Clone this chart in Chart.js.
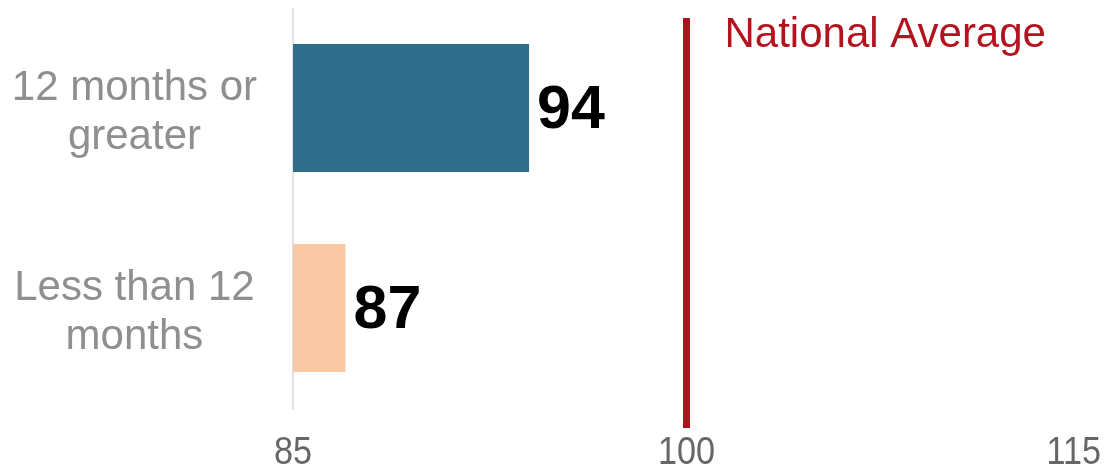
<!DOCTYPE html>
<html>
<head>
<meta charset="utf-8">
<style>
  html, body { margin: 0; padding: 0; background: #ffffff; }
  #wrap { width: 1105px; height: 476px; position: relative; }
</style>
<script src="https://cdn.jsdelivr.net/npm/chart.js@4.4.0/dist/chart.umd.min.js"></script>
</head>
<body>
<div id="wrap"><canvas id="c" width="1105" height="476"></canvas></div>
<script>
const categories = [["12 months or", "greater"], ["Less than 12", "months"]];
const values = [94, 87];
const barColors = ["#2f6e8a", "#f8c9a4"];
const tickValues = [85, 100, 115];
const nationalAverage = 100;
const nationalAverageLabel = "National Average";

const refLinePlugin = {
  id: 'refLine',
  afterDatasetsDraw(chart) {
    const ctx = chart.ctx;
    const xs = chart.scales.x;
    const area = chart.chartArea;
    const x = xs.getPixelForValue(nationalAverage);
    ctx.save();
    ctx.strokeStyle = '#b3101c';
    ctx.lineWidth = 7;
    ctx.beginPath();
    ctx.moveTo(x, area.top + 10);
    ctx.lineTo(x, area.bottom + 20);
    ctx.stroke();
    ctx.fillStyle = '#b3121e';
    ctx.font = '42px "Liberation Sans", Arial, sans-serif';
    ctx.textAlign = 'left';
    ctx.textBaseline = 'middle';
    ctx.fillText(nationalAverageLabel, x + 38, area.top + 27);
    ctx.restore();
  }
};

const valueLabelPlugin = {
  id: 'valueLabels',
  afterDatasetsDraw(chart) {
    const ctx = chart.ctx;
    const meta = chart.getDatasetMeta(0);
    ctx.save();
    ctx.fillStyle = '#000000';
    ctx.font = 'bold 61px "Liberation Sans", Arial, sans-serif';
    ctx.textAlign = 'left';
    ctx.textBaseline = 'middle';
    meta.data.forEach((bar, i) => {
      ctx.fillText(String(values[i]), bar.x + 8, bar.y + 3);
    });
    ctx.restore();
  }
};

const axisLinePlugin = {
  id: 'axisLine',
  beforeDatasetsDraw(chart) {
    const ctx = chart.ctx;
    const area = chart.chartArea;
    const x = chart.scales.x.getPixelForValue(tickValues[0]);
    ctx.save();
    ctx.strokeStyle = '#e2e2e2';
    ctx.lineWidth = 2;
    ctx.beginPath();
    ctx.moveTo(x, area.top);
    ctx.lineTo(x, area.bottom + 2);
    ctx.stroke();
    ctx.restore();
  }
};

// Draws the x-axis tick labels (from the scale's own ticks) slightly condensed,
// keeping the last one inside the canvas.
const xTickLabelPlugin = {
  id: 'xTickLabels',
  afterDraw(chart) {
    const ctx = chart.ctx;
    const xs = chart.scales.x;
    const sx = 0.9;
    ctx.save();
    ctx.fillStyle = '#666666';
    ctx.font = '38px "Liberation Sans", Arial, sans-serif';
    ctx.textBaseline = 'middle';
    ctx.textAlign = 'center';
    xs.ticks.forEach((t, i) => {
      const label = String(t.value);
      const w = ctx.measureText(label).width * sx;
      let cx = xs.getPixelForTick(i);
      const maxRight = chart.width - 4;
      if (cx + w / 2 > maxRight) cx = maxRight - w / 2;
      ctx.save();
      ctx.translate(cx, xs.top + 46);
      ctx.scale(sx, 1);
      ctx.fillText(label, 0, 0);
      ctx.restore();
    });
    ctx.restore();
  }
};

new Chart(document.getElementById('c'), {
  type: 'bar',
  data: {
    labels: categories,
    datasets: [{
      data: values,
      backgroundColor: barColors,
      borderWidth: 0,
      barPercentage: 0.8,
      categoryPercentage: 0.8,
      base: tickValues[0]
    }]
  },
  options: {
    indexAxis: 'y',
    responsive: false,
    animation: false,
    layout: { padding: { top: 8, right: 25, left: 0, bottom: 0 } },
    plugins: { legend: { display: false }, tooltip: { enabled: false } },
    scales: {
      x: {
        min: tickValues[0],
        max: tickValues[tickValues.length - 1],
        afterBuildTicks(scale) { scale.ticks = tickValues.map(v => ({ value: v })); },
        afterFit(scale) { scale.height = 68; scale.paddingLeft = 0; scale.paddingRight = 0; },
        grid: { display: false, drawTicks: false },
        border: { display: false },
        ticks: { display: false }
      },
      y: {
        afterFit(scale) { scale.width = 293; scale.paddingTop = 0; scale.paddingBottom = 0; },
        grid: { display: false, drawTicks: false },
        border: { display: false },
        ticks: {
          color: '#8f8f8f',
          padding: 36,
          labelOffset: 5,
          crossAlign: 'center',
          font: { family: '"Liberation Sans", Arial, sans-serif', size: 42, lineHeight: 1.15 }
        }
      }
    }
  },
  plugins: [axisLinePlugin, refLinePlugin, valueLabelPlugin, xTickLabelPlugin]
});
</script>
</body>
</html>
